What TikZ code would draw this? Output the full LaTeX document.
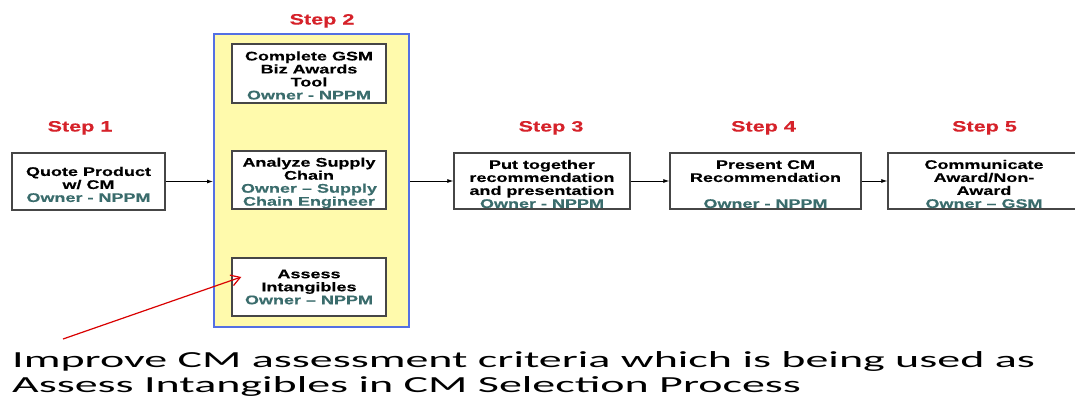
\documentclass[tikz,border=0pt]{standalone}
\usepackage{fontspec}
\usetikzlibrary{arrows.meta,calc}
\newfontfamily\boxfont[FakeStretch=1.44,BoldFont={Liberation Sans Bold},BoldFeatures={FakeBold=0.3}]{Liberation Sans}
\newfontfamily\notefont[FakeStretch=2.0]{Carlito}
\definecolor{steprd}{RGB}{214,34,42}
\definecolor{ownerteal}{RGB}{58,108,108}
\definecolor{padyellow}{RGB}{255,250,172}
\definecolor{padblue}{RGB}{84,112,228}
\definecolor{boxgray}{RGB}{70,70,70}
\newcommand{\owner}[1]{\textcolor{ownerteal}{#1}}
% invisible strut that lowers the text block inside a box
\newcommand{\lowerby}[1]{\rule{0pt}{#1}}
\tikzset{
  stepbox/.style={draw=boxgray, line width=1.4pt, fill=white, align=center,
    inner sep=0pt, font=\boxfont\bfseries\fontsize{12.5}{13}\selectfont},
  steplabel/.style={text=steprd, inner sep=0pt, anchor=base,
    font=\boxfont\bfseries\fontsize{15}{17}\selectfont},
  flow/.style={-{Latex[length=6pt,width=4pt]}, line width=0.8pt, black},
  pointer/.style={-{Straight Barb[length=9pt,width=11pt]}, line width=1.2pt, red!85!black}
}
\begin{document}
\begin{tikzpicture}[x=1pt,y=-1pt]
\useasboundingbox[fill=white] (0,0) rectangle (1075,399);

% step 2 group
\node[draw=padblue, line width=2pt, fill=padyellow, minimum width=195pt,
  minimum height=293pt, inner sep=0pt] (pad) at (311.5,180.5) {};

\node[stepbox, minimum width=153pt, minimum height=57pt] (quote) at (88.5,181.5)
  {\lowerby{15pt}Quote Product\\w/ CM\\\owner{Owner - NPPM}};
\node[stepbox, minimum width=154pt, minimum height=59pt] (gsm) at (309,73.5)
  {\lowerby{13pt}Complete GSM\\Biz Awards\\Tool\\\owner{Owner - NPPM}};
\node[stepbox, minimum width=154pt, minimum height=58pt] (supply) at (309,180)
  {\lowerby{15pt}Analyze Supply\\Chain\\\owner{Owner – Supply}\\\owner{Chain Engineer}};
\node[stepbox, minimum width=154pt, minimum height=58pt] (assess) at (309,287)
  {Assess\\Intangibles\\\owner{Owner – NPPM}};
\node[stepbox, minimum width=176pt, minimum height=56pt] (present) at (542,181)
  {\lowerby{15pt}Put together\\recommendation\\and presentation\\\owner{Owner - NPPM}};
\node[stepbox, minimum width=191pt, minimum height=56pt] (cmrec) at (765.5,181)
  {\lowerby{15pt}Present CM\\Recommendation\\\mbox{}\\\owner{Owner - NPPM}};
\node[stepbox, minimum width=192pt, minimum height=56pt] (award) at (984,181)
  {\lowerby{15pt}Communicate\\Award/Non-\\Award\\\owner{Owner – GSM}};

% step titles
\node[steplabel] (s1) at (80,131.5) {Step 1};
\node[steplabel] (s2) at (322,24.5) {Step 2};
\node[steplabel] (s3) at (551,131.5) {Step 3};
\node[steplabel] (s4) at (763.5,131.5) {Step 4};
\node[steplabel] (s5) at (984.5,131.5) {Step 5};

% flow connectors
\draw[flow] (quote.east) -- (quote.east -| pad.west);
\draw[flow] (pad.east |- present.west) -- (present.west);
\draw[flow] (present.east) -- (cmrec.west);
\draw[flow] (cmrec.east) -- (award.west);

% note with pointer
\coordinate (tail) at (63,339);
\coordinate (tip) at ($(assess.west)+(10,-10)$);
\draw[pointer] (tail) -- (tip);
\node[anchor=north west, inner sep=0pt, align=left,
  font=\notefont\fontsize{23}{25}\selectfont] (note) at (12,351)
  {Improve CM assessment criteria which is being used as\\Assess Intangibles in CM Selection Process};
\end{tikzpicture}
\end{document}
